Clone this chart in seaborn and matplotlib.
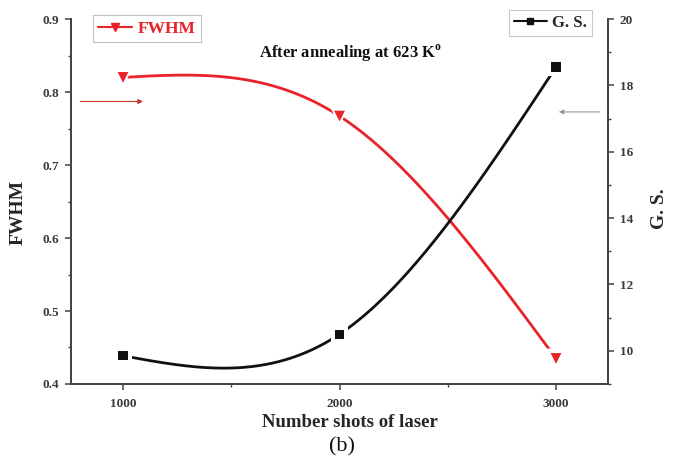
import numpy as np
import pandas as pd
import matplotlib
matplotlib.use("Agg")
import matplotlib.pyplot as plt
from matplotlib.lines import Line2D
from matplotlib.ticker import MultipleLocator
import seaborn as sns

# Data
shots = [1000, 2000, 3000]
fwhm = [0.820, 0.767, 0.435]
grain_size = [9.85, 10.50, 18.55]

x_ticks = [1000, 2000, 3000]
fwhm_ticks = [0.4, 0.5, 0.6, 0.7, 0.8, 0.9]
gs_ticks = [10, 12, 14, 16, 18, 20]

RED = "#e8232a"
BLACK = "#111111"


def natural_spline(x, y, xs):
    """Natural cubic spline through (x, y), evaluated at xs."""
    x = np.asarray(x, float)
    y = np.asarray(y, float)
    n = len(x)
    h = np.diff(x)
    A = np.zeros((n, n))
    rhs = np.zeros(n)
    A[0, 0] = A[-1, -1] = 1.0
    for i in range(1, n - 1):
        A[i, i - 1] = h[i - 1]
        A[i, i] = 2 * (h[i - 1] + h[i])
        A[i, i + 1] = h[i]
        rhs[i] = 6 * ((y[i + 1] - y[i]) / h[i] - (y[i] - y[i - 1]) / h[i - 1])
    M = np.linalg.solve(A, rhs)
    out = np.empty_like(xs, dtype=float)
    for k, xv in enumerate(xs):
        i = min(max(np.searchsorted(x, xv) - 1, 0), n - 2)
        t0, t1 = x[i + 1] - xv, xv - x[i]
        out[k] = (M[i] * t0 ** 3 + M[i + 1] * t1 ** 3) / (6 * h[i]) \
            + (y[i] / h[i] - M[i] * h[i] / 6) * t0 \
            + (y[i + 1] / h[i] - M[i + 1] * h[i] / 6) * t1
    return out


sns.set_theme(style="white")
plt.rcParams["font.family"] = ["Liberation Serif", "DejaVu Serif"]

fig = plt.figure(figsize=(6.77, 4.59), dpi=100)
ax = fig.add_axes([0.105, 0.1634, 0.793, 0.7952])
ax2 = ax.twinx()

xs = np.linspace(shots[0], shots[-1], 300)
curve_fwhm = pd.DataFrame({"shots": xs, "value": natural_spline(shots, fwhm, xs)})
curve_gs = pd.DataFrame({"shots": xs, "value": natural_spline(shots, grain_size, xs)})
pts_fwhm = pd.DataFrame({"shots": shots, "value": fwhm})
pts_gs = pd.DataFrame({"shots": shots, "value": grain_size})

# Smooth curves
sns.lineplot(data=curve_fwhm, x="shots", y="value", ax=ax, color=RED, lw=2.0, zorder=2)
sns.lineplot(data=curve_gs, x="shots", y="value", ax=ax2, color=BLACK, lw=2.0, zorder=2)

# Markers, with a white halo that leaves a small gap to the curve
sns.scatterplot(data=pts_fwhm, x="shots", y="value", ax=ax, marker="v", s=200,
                color="white", edgecolor="none", zorder=3)
sns.scatterplot(data=pts_fwhm, x="shots", y="value", ax=ax, marker="v", s=60,
                color=RED, edgecolor="none", zorder=4)
sns.scatterplot(data=pts_gs, x="shots", y="value", ax=ax2, marker="s", s=160,
                color="white", edgecolor="none", zorder=3)
sns.scatterplot(data=pts_gs, x="shots", y="value", ax=ax2, marker="s", s=45,
                color=BLACK, edgecolor="none", zorder=4)

# Axis limits and ticks
ax.set_xlim(760, 3240)
ax.set_ylim(0.4, 0.9)
ax2.set_ylim(9, 20)
ax.set_xticks(x_ticks)
ax.set_xticklabels([str(v) for v in x_ticks])
ax.set_yticks(fwhm_ticks)
ax.set_yticklabels([f"{v:.1f}" for v in fwhm_ticks])
ax2.set_yticks(gs_ticks)
ax2.set_yticklabels([str(v) for v in gs_ticks])
ax.xaxis.set_minor_locator(MultipleLocator(500))
ax.yaxis.set_minor_locator(MultipleLocator(0.05))
ax2.yaxis.set_minor_locator(MultipleLocator(1))

spine_col = "#444444"
for a in (ax, ax2):
    a.spines["top"].set_visible(False)
    for s in a.spines.values():
        s.set_color(spine_col)
        s.set_linewidth(1.3)
    a.tick_params(which="major", direction="out", length=4, width=1.1,
                  color=spine_col, labelsize=9.5, pad=4.5)
    a.tick_params(which="minor", direction="out", length=2.5, width=1.0,
                  color=spine_col)
ax.tick_params(axis="y", which="both", left=True, right=False)
ax.tick_params(axis="x", which="both", bottom=True, top=False, pad=6)
ax2.tick_params(axis="y", which="both", right=True, left=False)
for lab in ax.get_xticklabels() + ax.get_yticklabels() + ax2.get_yticklabels():
    lab.set_fontweight("bold")
    lab.set_color("#3a3a3a")

ax.set_xlabel("Number shots of laser", fontsize=13.5, fontweight="bold")
ax.xaxis.set_label_coords(0.52, -0.082)
ax.set_ylabel("FWHM", fontsize=14, fontweight="bold")
ax.yaxis.set_label_coords(-0.082, 0.47)
ax2.set_ylabel("G. S.", fontsize=14, fontweight="bold")
ax2.yaxis.set_label_coords(1.080, 0.48)

ax.text(0.52, 0.905, r"After annealing at 623 K$^{\mathregular{o}}$", transform=ax.transAxes,
        ha="center", va="center", fontsize=12, fontweight="bold", color=BLACK)
fig.text(0.505, 0.026, "(b)", ha="center", va="center", fontsize=16, color=BLACK)

# Arrows pointing to each curve's own axis
ax.annotate("", xy=(1105, 0.787), xytext=(790, 0.787),
            arrowprops=dict(arrowstyle="-|>", color="#c0392b", lw=0.8,
                            mutation_scale=7))
ax2.annotate("", xy=(3000, 17.2), xytext=(3215, 17.2),
             arrowprops=dict(arrowstyle="-|>", color="#999999", lw=0.8,
                             mutation_scale=7))

# Legends
h_fwhm = Line2D([], [], color=RED, lw=1.5, marker="v", markersize=6, label="FWHM")
h_gs = Line2D([], [], color=BLACK, lw=1.5, marker="s", markersize=5, label="G. S.")
leg1 = ax.legend(handles=[h_fwhm], loc="upper left", bbox_to_anchor=(0.04, 1.01),
                 frameon=True, fancybox=False, edgecolor="#bbbbbb", handlelength=2.0,
                 handletextpad=0.3, borderpad=0.3, borderaxespad=0,
                 prop={"weight": "bold", "size": 12.5})
for t in leg1.get_texts():
    t.set_color(RED)
ax.add_artist(leg1)
leg2 = ax2.legend(handles=[h_gs], loc="upper right", bbox_to_anchor=(0.97, 1.025),
                  frameon=True, fancybox=False, edgecolor="#bbbbbb", handlelength=2.0,
                  handletextpad=0.3, borderpad=0.3, borderaxespad=0,
                  prop={"weight": "bold", "size": 12})
leg1.get_frame().set_linewidth(0.8)
leg2.get_frame().set_linewidth(0.8)

fig.savefig("out.png", dpi=100, facecolor="white")
